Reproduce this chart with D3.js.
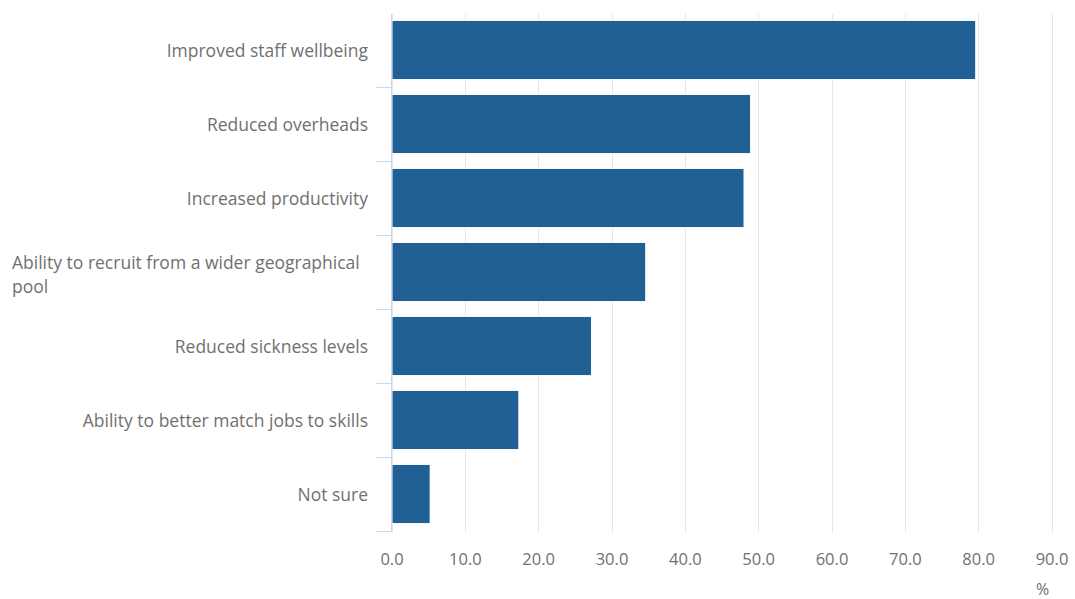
<!DOCTYPE html>
<html>
<head>
<meta charset="utf-8">
<script src="https://cdn.jsdelivr.net/npm/d3@7/dist/d3.min.js"></script>
<style>
  html, body { margin: 0; padding: 0; background: #fff; }
  svg text { font-family: "Open Sans", sans-serif; }
</style>
</head>
<body>
<svg id="chart" width="1075" height="599"></svg>
<script>
const categories = [
  "Improved staff wellbeing",
  "Reduced overheads",
  "Increased productivity",
  "Ability to recruit from a wider geographical pool",
  "Reduced sickness levels",
  "Ability to better match jobs to skills",
  "Not sure"
];
const values = [79.6, 48.9, 48.0, 34.6, 27.2, 17.3, 5.2];
const xTicks = [0, 10, 20, 30, 40, 50, 60, 70, 80, 90];
const xTickLabels = ["0.0", "10.0", "20.0", "30.0", "40.0", "50.0", "60.0", "70.0", "80.0", "90.0"];
const unitLabel = "%";

(function () {
const svg = d3.select("#chart");
const pLeft = 391.5, pRight = 1051.5, pTop = 13, pBottom = 531;
const textColor = "#707070";

const x = d3.scaleLinear().domain([0, 90]).range([pLeft, pRight]);
const y = d3.scaleBand().domain(categories).range([pTop, pBottom])
  .paddingInner(0.2).paddingOuter(0.1);

// gridlines
svg.append("g").selectAll("line").data(xTicks).join("line")
  .attr("x1", d => Math.round(x(d)) + 0.5).attr("x2", d => Math.round(x(d)) + 0.5)
  .attr("y1", pTop + 1).attr("y2", pBottom + 1)
  .attr("stroke", "#e6e6e6").attr("stroke-width", 1);

// x axis labels
const xAxis = d3.axisBottom(x).tickValues(xTicks)
  .tickFormat((d, i) => xTickLabels[i]).tickSize(0).tickPadding(0);
const gx = svg.append("g").attr("transform", `translate(0,${pBottom + 28})`).call(xAxis);
gx.select(".domain").remove();
gx.selectAll("text").attr("fill", textColor).style("font-size", "16.5px")
  .style("font-family", "'Open Sans', sans-serif")
  .attr("dy", "0.35em").attr("y", 0);

svg.append("text").attr("x", x(90) - 9).attr("y", 589).attr("dy", "0.35em")
  .attr("text-anchor", "middle").attr("fill", textColor).style("font-size", "16px")
  .text(unitLabel);

// bars
svg.append("g").selectAll("rect").data(categories).join("rect")
  .attr("x", x(0) + 0.5)
  .attr("y", d => y(d))
  .attr("width", (d, i) => x(values[i]) - x(0))
  .attr("height", y.bandwidth())
  .attr("fill", "#206095")
  .attr("stroke", "#ffffff").attr("stroke-width", 1);

// y axis line and category ticks
svg.append("line").attr("x1", pLeft).attr("x2", pLeft).attr("y1", pTop + 1).attr("y2", pBottom + 1)
  .attr("stroke", "#ccd6eb").attr("stroke-width", 1);
const step = y.step();
const boundaries = d3.range(1, categories.length + 1).map(i => pTop + i * step);
svg.append("g").selectAll("line").data(boundaries).join("line")
  .attr("x1", pLeft - 15).attr("x2", pLeft)
  .attr("y1", d => Math.round(d) + 0.5).attr("y2", d => Math.round(d) + 0.5)
  .attr("stroke", "#ccd6eb").attr("stroke-width", 1);

// category labels with wrapping
const labelRight = 368, maxW = 356, lineH = 24;
const gl = svg.append("g");
categories.forEach(c => {
  const cy = y(c) + y.bandwidth() / 2 + 1;
  const t = gl.append("text").attr("fill", textColor).style("font-size", "17.5px");
  const words = c.split(" ");
  const lines = [];
  let cur = [];
  const probe = t.append("tspan");
  words.forEach(w => {
    const test = cur.concat([w]).join(" ");
    probe.text(test);
    if (probe.node().getComputedTextLength() > maxW && cur.length) {
      lines.push(cur.join(" "));
      cur = [w];
    } else cur.push(w);
  });
  lines.push(cur.join(" "));
  probe.remove();
  if (lines.length === 1) {
    t.attr("text-anchor", "end").attr("x", labelRight).attr("y", cy).attr("dy", "0.35em").text(lines[0]);
  } else {
    const startY = cy + 2 - (lines.length - 1) * lineH / 2;
    lines.forEach((l, i) => {
      t.append("tspan").attr("x", 12).attr("y", startY + i * lineH)
        .attr("dy", "0.35em").text(l);
    });
  }
});
})();
</script>
</body>
</html>
